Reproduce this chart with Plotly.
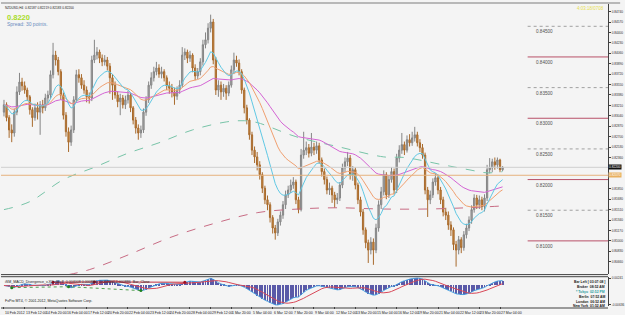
import plotly.graph_objects as go
import pandas as pd

# ---------------- data (NZDUSD H4) ----------------
closes = [
.8322,.8301,.8281,.8276,.8310,.8343,.8359,.8353,.8346,.8335,
.8314,.8301,.8317,.8310,.8322,.8317,.8333,.8338,.8371,.8403,
.8395,.8376,.8338,.8305,.8278,.8261,.8281,.8330,.8371,.8366,
.8354,.8346,.8335,.8333,.8395,.8403,.8408,.8398,.8392,.8395,
.8385,.8366,.8354,.8338,.8327,.8333,.8322,.8330,.8338,.8317,
.8297,.8284,.8276,.8281,.8310,.8330,.8354,.8366,.8376,.8382,
.8372,.8376,.8366,.8353,.8349,.8343,.8336,.8346,.8354,.8403,
.8408,.8398,.8403,.8382,.8369,.8376,.8392,.8420,.8428,.8447,
.8457,.8395,.8346,.8354,.8343,.8349,.8341,.8354,.8379,.8395,
.8390,.8376,.8346,.8317,.8297,.8273,.8248,.8237,.8224,.8208,
.8186,.8167,.8159,.8138,.8121,.8113,.8131,.8142,.8159,.8175,
.8183,.8191,.8196,.8167,.8151,.8240,.8248,.8252,.8243,.8253,
.8248,.8255,.8232,.8213,.8200,.8183,.8186,.8175,.8167,.8170,
.8191,.8219,.8229,.8235,.8208,.8216,.8191,.8167,.8147,.8118,
.8097,.8085,.8098,.8085,.8121,.8159,.8180,.8208,.8175,.8200,
.8213,.8183,.8235,.8248,.8257,.8248,.8265,.8260,.8268,.8273,
.8260,.8252,.8240,.8183,.8167,.8175,.8196,.8203,.8183,.8167,
.8147,.8142,.8126,.8118,.8094,.8085,.8102,.8089,.8110,.8121,
.8134,.8151,.8170,.8159,.8167,.8156,.8170,.8216,.8219,.8229,
.8224,.8232,.8216,.8220]

opens = [
.8310,.8322,.8301,.8281,.8276,.8310,.8343,.8359,.8353,.8346,
.8335,.8314,.8301,.8317,.8310,.8322,.8317,.8333,.8338,.8371,
.8403,.8395,.8376,.8338,.8305,.8278,.8261,.8281,.8330,.8371,
.8366,.8354,.8346,.8335,.8333,.8395,.8403,.8408,.8398,.8392,
.8395,.8385,.8366,.8354,.8338,.8327,.8333,.8322,.8330,.8338,
.8317,.8297,.8284,.8276,.8281,.8310,.8330,.8354,.8366,.8376,
.8382,.8372,.8376,.8366,.8353,.8349,.8343,.8336,.8346,.8354,
.8403,.8408,.8398,.8403,.8382,.8369,.8376,.8392,.8420,.8428,
.8447,.8457,.8395,.8346,.8354,.8343,.8349,.8341,.8354,.8379,
.8395,.8390,.8376,.8346,.8317,.8297,.8273,.8248,.8237,.8224,
.8208,.8186,.8167,.8159,.8138,.8121,.8113,.8131,.8142,.8159,
.8175,.8183,.8191,.8196,.8167,.8151,.8240,.8248,.8252,.8243,
.8253,.8248,.8255,.8232,.8213,.8200,.8183,.8186,.8175,.8167,
.8170,.8191,.8219,.8229,.8235,.8208,.8216,.8191,.8167,.8147,
.8118,.8097,.8085,.8098,.8085,.8121,.8159,.8180,.8208,.8175,
.8200,.8213,.8183,.8235,.8248,.8257,.8248,.8265,.8260,.8268,
.8273,.8260,.8252,.8240,.8183,.8167,.8175,.8196,.8203,.8183,
.8167,.8147,.8142,.8126,.8118,.8094,.8085,.8102,.8089,.8110,
.8121,.8134,.8151,.8170,.8159,.8167,.8156,.8170,.8216,.8219,
.8229,.8224,.8232,.8216]

highs = [
.8330,.8326,.8305,.8290,.8316,.8352,.8374,.8366,.8360,.8350,
.8338,.8318,.8324,.8326,.8328,.8330,.8340,.8345,.8378,.8423,
.8410,.8400,.8380,.8342,.8310,.8285,.8288,.8336,.8379,.8380,
.8372,.8362,.8352,.8342,.8402,.8428,.8416,.8412,.8404,.8403,
.8400,.8390,.8372,.8360,.8344,.8340,.8338,.8337,.8345,.8342,
.8320,.8302,.8290,.8288,.8316,.8336,.8360,.8375,.8384,.8392,
.8388,.8384,.8380,.8370,.8360,.8356,.8350,.8352,.8362,.8416,
.8414,.8412,.8410,.8406,.8388,.8382,.8398,.8428,.8440,.8455,
.8469,.8462,.8400,.8362,.8360,.8356,.8354,.8360,.8386,.8407,
.8402,.8396,.8380,.8350,.8322,.8300,.8278,.8254,.8245,.8230,
.8212,.8190,.8174,.8163,.8142,.8126,.8136,.8148,.8165,.8182,
.8190,.8200,.8204,.8200,.8172,.8250,.8278,.8262,.8258,.8276,
.8260,.8262,.8260,.8236,.8218,.8205,.8195,.8190,.8180,.8178,
.8196,.8226,.8236,.8245,.8240,.8222,.8220,.8195,.8172,.8152,
.8122,.8102,.8106,.8104,.8128,.8166,.8188,.8215,.8212,.8206,
.8220,.8218,.8242,.8256,.8276,.8262,.8272,.8274,.8278,.8286,
.8278,.8266,.8258,.8244,.8188,.8182,.8202,.8210,.8208,.8188,
.8172,.8154,.8148,.8132,.8122,.8100,.8108,.8106,.8116,.8128,
.8140,.8158,.8176,.8175,.8174,.8172,.8176,.8224,.8235,.8234,
.8236,.8236,.8234,.8222]

lows = [
.8303,.8295,.8268,.8261,.8270,.8305,.8338,.8345,.8340,.8328,
.8306,.8286,.8296,.8298,.8273,.8308,.8312,.8325,.8332,.8365,
.8386,.8370,.8330,.8298,.8270,.8245,.8255,.8276,.8325,.8358,
.8348,.8340,.8326,.8324,.8328,.8390,.8396,.8390,.8385,.8386,
.8378,.8340,.8330,.8332,.8318,.8305,.8316,.8315,.8324,.8310,
.8290,.8275,.8265,.8268,.8276,.8304,.8325,.8348,.8360,.8370,
.8366,.8365,.8360,.8346,.8340,.8334,.8322,.8330,.8340,.8350,
.8395,.8390,.8392,.8375,.8362,.8364,.8370,.8386,.8414,.8422,
.8440,.8388,.8338,.8335,.8330,.8335,.8330,.8336,.8350,.8372,
.8384,.8370,.8340,.8308,.8290,.8265,.8240,.8227,.8215,.8200,
.8178,.8160,.8150,.8130,.8112,.8102,.8108,.8125,.8136,.8152,
.8170,.8178,.8185,.8160,.8145,.8148,.8234,.8240,.8236,.8238,
.8240,.8242,.8226,.8205,.8192,.8176,.8175,.8162,.8154,.8160,
.8165,.8186,.8212,.8222,.8200,.8198,.8184,.8160,.8140,.8110,
.8088,.8064,.8078,.8061,.8080,.8115,.8152,.8174,.8168,.8170,
.8195,.8176,.8178,.8228,.8242,.8240,.8244,.8254,.8255,.8262,
.8254,.8245,.8234,.8176,.8139,.8160,.8170,.8190,.8176,.8160,
.8140,.8134,.8118,.8108,.8085,.8058,.8078,.8080,.8084,.8104,
.8116,.8128,.8146,.8152,.8152,.8150,.8148,.8165,.8210,.8212,
.8216,.8218,.8212,.8214]

# long moving averages (bar index, value)
ma200_bars = [0, 10, 23, 35, 48, 60, 73, 86, 93, 98, 113, 130, 147, 155, 170, 180, 187, 193]
ma200_vals = [.8151, .8164, .8200, .8220, .8243, .8260, .8281, .8294, .8296, .8293,
              .8270, .8253, .8237, .8236, .8224, .8216, .8211, .8213]
ma365_bars = [25, 33, 48, 64, 81, 98, 114, 129, 146, 164, 179, 193]
ma365_vals = [.8045, .8053, .8077, .8105, .8128, .8146, .8152, .8154, .8152, .8152, .8154, .8157]

# MACD divergence pivots (bar indices of price extremes)
div_bear_bars = [19, 35, 70]
div_bull_bars = [3, 25, 53]

date_labels = ["10 Feb 2012", "13 Feb 12:00", "14 Feb 20:00", "16 Feb 04:00", "17 Feb 12:00",
               "20 Feb 20:00", "22 Feb 04:00", "23 Feb 12:00", "24 Feb 20:00", "28 Feb 04:00",
               "29 Feb 12:00", "1 Mar 20:00", "5 Mar 04:00", "6 Mar 12:00", "7 Mar 20:00",
               "9 Mar 04:00", "12 Mar 12:00", "13 Mar 20:00", "15 Mar 04:00", "16 Mar 12:00",
               "19 Mar 20:00", "21 Mar 04:00", "22 Mar 12:00", "23 Mar 20:00", "27 Mar 04:00"]
date_bars = [8 * i for i in range(len(date_labels))]

level_dotted = [0.8450, 0.8350, 0.8250, 0.8150]
level_solid = [0.8400, 0.8300, 0.8200, 0.8100]
bid_price = 0.8220
pivot_price = 0.8207
price_ticks = [round(0.8066 + 0.0017 * k, 5) for k in range(26)]
price_ticks = [v for v in price_ticks if abs(v - bid_price) > 0.0009 and abs(v - pivot_price) > 0.0009]

info_lines = ["Bar Left [ 03:07:08 ]", "Broker  08:52 AM", "* Tokyo  02:52 PM",
              "Berlin  07:52 AM", "London  06:52 AM", "New York  01:52 AM"]

# ---------------- derived indicators ----------------
bars = list(range(len(closes)))
s = pd.Series(closes)
ema_fast = s.ewm(span=12, adjust=False).mean()
ema_mid = s.ewm(span=28, adjust=False).mean()
ema_slow = s.ewm(span=60, adjust=False).mean()
macd = s.ewm(span=12, adjust=False).mean() - s.ewm(span=26, adjust=False).mean()
signal = macd.rolling(9, min_periods=1).mean()

FONT = "Liberation Sans"
BG = "#f4f4f4"
fig = go.Figure()

fig.add_trace(go.Candlestick(
    x=bars, open=opens, high=highs, low=lows, close=closes,
    increasing=dict(line=dict(color="#858585", width=1), fillcolor="#ababab"),
    decreasing=dict(line=dict(color="#a86a2c", width=1), fillcolor="#cc8c42"),
    whiskerwidth=0, xaxis="x", yaxis="y", showlegend=False, hoverinfo="skip"))

fig.add_trace(go.Scatter(x=ma200_bars, y=ma200_vals, mode="lines", line=dict(color="#78c4a8", width=1, dash="dash", shape="spline"), xaxis="x", yaxis="y", hoverinfo="skip"))
fig.add_trace(go.Scatter(x=ma365_bars, y=ma365_vals, mode="lines", line=dict(color="#c86c84", width=1, dash="dash", shape="spline"), xaxis="x", yaxis="y", hoverinfo="skip"))
fig.add_trace(go.Scatter(x=bars, y=ema_slow, mode="lines", line=dict(color="#d464d4", width=1), xaxis="x", yaxis="y", hoverinfo="skip"))
fig.add_trace(go.Scatter(x=bars, y=ema_mid, mode="lines", line=dict(color="#f0a070", width=1), xaxis="x", yaxis="y", hoverinfo="skip"))
fig.add_trace(go.Scatter(x=bars, y=ema_fast, mode="lines", line=dict(color="#60c8e4", width=1), xaxis="x", yaxis="y", hoverinfo="skip"))

# MACD panel
fig.add_trace(go.Bar(x=bars, y=macd, marker=dict(color="#5a5aa8", line=dict(width=0)), width=0.35, xaxis="x2", yaxis="y2", hoverinfo="skip"))
fig.add_trace(go.Scatter(x=bars, y=macd, mode="lines", line=dict(color="#4aa0e0", width=1), xaxis="x2", yaxis="y2", hoverinfo="skip"))
fig.add_trace(go.Scatter(x=bars, y=signal, mode="lines", line=dict(color="#d84858", width=1), xaxis="x2", yaxis="y2", hoverinfo="skip"))
fig.add_trace(go.Scatter(x=div_bear_bars, y=[float(macd[b]) for b in div_bear_bars], mode="lines+markers",
                         line=dict(color="#c83040", width=1), marker=dict(color="#a01020", size=3),
                         xaxis="x2", yaxis="y2", hoverinfo="skip"))
fig.add_trace(go.Scatter(x=div_bull_bars, y=[float(macd[b]) for b in div_bull_bars], mode="lines+markers",
                         line=dict(color="#50a050", width=1, dash="dot"), marker=dict(color="#208020", size=3),
                         xaxis="x2", yaxis="y2", hoverinfo="skip"))

XR = [-1.15, 233.8]
ymin_p, ymax_p = 0.8046, 0.8488
mmin, mmax = float(macd.min()), float(macd.max())
pad = (mmax - mmin) * 0.04
MD = [0.0066, 0.1016]
PD = [0.1115, 1.0]

shapes = []
for lv in level_dotted:
    shapes.append(dict(type="line", xref="x", yref="y", x0=202.7, x1=XR[1], y0=lv, y1=lv,
                       line=dict(color="#a0a0a0", width=1, dash="dot")))
for lv in level_solid:
    shapes.append(dict(type="line", xref="x", yref="y", x0=202.7, x1=XR[1], y0=lv, y1=lv,
                       line=dict(color="#b85068", width=1)))
shapes.append(dict(type="line", xref="paper", yref="y", x0=0, x1=1, y0=bid_price, y1=bid_price,
                   line=dict(color="#cfcfcf", width=1)))
shapes.append(dict(type="line", xref="paper", yref="y", x0=0, x1=1, y0=pivot_price, y1=pivot_price,
                   line=dict(color="#e6b27e", width=1)))
shapes.append(dict(type="line", xref="paper", yref="paper", x0=0, x1=1, y0=PD[0] - 0.002, y1=PD[0] - 0.002,
                   line=dict(color="#404040", width=1)))
shapes.append(dict(type="line", xref="paper", yref="paper", x0=0, x1=1, y0=MD[1] + 0.001, y1=MD[1] + 0.001,
                   line=dict(color="#404040", width=1)))
shapes.append(dict(type="line", xref="paper", yref="paper", x0=0, x1=1, y0=0.0, y1=0.0,
                   line=dict(color="#404040", width=1)))
shapes.append(dict(type="line", xref="paper", yref="paper", x0=0, x1=1.02, y0=1.0, y1=1.0,
                   line=dict(color="#b8b8b8", width=2)))

annotations = []
annotations.append(dict(xref="paper", yref="paper", x=0.004, y=0.997, xanchor="left", yanchor="top",
                        text="NZDUSD,H4  0.82187 0.82219 0.82183 0.82200", showarrow=False,
                        font=dict(family=FONT, size=3.2, color="#202020")))
annotations.append(dict(xref="paper", yref="paper", x=0.007, y=0.975, xanchor="left", yanchor="top",
                        text="<b>0.8220</b>", showarrow=False,
                        font=dict(family=FONT, size=7.5, color="#a8dc28")))
annotations.append(dict(xref="paper", yref="paper", x=0.007, y=0.948, xanchor="left", yanchor="top",
                        text="Spread: 30 points.", showarrow=False,
                        font=dict(family=FONT, size=5, color="#6a8cc0")))
annotations.append(dict(xref="paper", yref="paper", x=0.997, y=0.998, xanchor="right", yanchor="top",
                        text="4:03:18/0708", showarrow=False,
                        font=dict(family=FONT, size=4.5, color="#e8e050")))
for lv in level_dotted + level_solid:
    annotations.append(dict(xref="x", yref="y", x=205, y=lv, xanchor="left", yanchor="top", yshift=-1,
                            text=f"{lv:.5f}", showarrow=False,
                            font=dict(family=FONT, size=4.6, color="#505050")))
annotations.append(dict(xref="paper", yref="y", x=1.0, y=bid_price, xanchor="left", yanchor="middle",
                        text=f"{bid_price:.5f}", showarrow=False, bgcolor="#101010", borderpad=0,
                        font=dict(family=FONT, size=3.2, color="#ffffff")))
annotations.append(dict(xref="paper", yref="y", x=1.0, y=pivot_price, xanchor="left", yanchor="middle",
                        text=f"{pivot_price:.5f}", showarrow=False, bgcolor="#e8b060", borderpad=0,
                        font=dict(family=FONT, size=3.2, color="#ffffff")))
annotations.append(dict(xref="paper", yref="paper", x=0.004, y=MD[1] - 0.002, xanchor="left", yanchor="top",
                        text="iSM_MACD_Divergence_v.XO: 36, 8  0.004008 0.000884  -0.004000 0.000886  Bar_Close",
                        showarrow=False, font=dict(family=FONT, size=3.6, color="#202020")))
annotations.append(dict(xref="paper", yref="paper", x=0.004, y=0.01, xanchor="left", yanchor="bottom",
                        text="FxPro MT4, © 2001-2012, MetaQuotes Software Corp.", showarrow=False,
                        font=dict(family=FONT, size=3.6, color="#202020")))
for i, t in enumerate(info_lines):
    annotations.append(dict(xref="paper", yref="paper", x=0.998, y=MD[1] - 0.004 - i * 0.0158,
                            xanchor="right", yanchor="top", text=f"<b>{t}</b>", showarrow=False,
                            font=dict(family=FONT, size=3.4, color="#2aa0a0" if "Tokyo" in t else "#202020")))
for b, t in zip(date_bars, date_labels):
    annotations.append(dict(xref="x2", yref="paper", x=b, y=-0.004, xanchor="left", yanchor="top",
                            text=t, showarrow=False, xshift=-1,
                            font=dict(family=FONT, size=3.5, color="#202020")))

fig.update_layout(
    width=625, height=315, margin=dict(l=1, r=13, t=3, b=7),
    paper_bgcolor=BG, plot_bgcolor=BG, showlegend=False, bargap=0,
    xaxis=dict(domain=[0, 1], range=XR, anchor="y", showticklabels=False, showgrid=False,
               zeroline=False, rangeslider=dict(visible=False), fixedrange=True),
    yaxis=dict(domain=PD, range=[ymin_p, ymax_p], side="right", anchor="x", showgrid=False,
               zeroline=False, tickvals=price_ticks, ticktext=[f"{v:.5f}" for v in price_ticks],
               ticks="outside", ticklen=2, tickcolor="#404040", showline=True, linecolor="#404040",
               tickfont=dict(family=FONT, size=3.2, color="#303030")),
    xaxis2=dict(domain=[0, 1], range=XR, anchor="y2", showticklabels=False, showgrid=False,
                zeroline=False, tickvals=date_bars, ticks="outside", ticklen=2, tickcolor="#404040"),
    yaxis2=dict(domain=MD, range=[mmin - pad, mmax + pad], side="right", anchor="x2", showgrid=False,
                zeroline=False, tickvals=[mmin, mmax], ticktext=[f"{mmin:.5f}", f"{mmax:.5f}"],
                ticks="outside", ticklen=2, tickcolor="#404040", showline=True, linecolor="#404040",
                tickfont=dict(family=FONT, size=3.2, color="#303030")),
    shapes=shapes, annotations=annotations,
)

fig.write_html("out.html", include_plotlyjs=True, config={"displayModeBar": False})
